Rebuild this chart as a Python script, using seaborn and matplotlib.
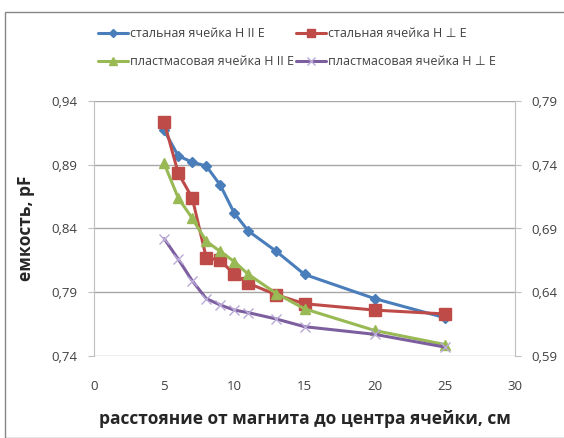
import matplotlib
matplotlib.use("Agg")
import matplotlib.pyplot as plt
import matplotlib.ticker as mticker
import seaborn as sns
import pandas as pd

distance = [5, 6, 7, 8, 9, 10, 11, 13, 15, 20, 25]
steel_par = [0.917, 0.897, 0.892, 0.889, 0.874, 0.852, 0.838, 0.822, 0.804, 0.785, 0.770]
steel_perp = [0.9235, 0.8835, 0.864, 0.817, 0.815, 0.804, 0.797, 0.788, 0.781, 0.776, 0.773]
plastic_par = [0.891, 0.864, 0.848, 0.830, 0.822, 0.814, 0.804, 0.789, 0.777, 0.760, 0.749]
plastic_perp = [0.832, 0.816, 0.799, 0.785, 0.780, 0.776, 0.774, 0.769, 0.763, 0.757, 0.747]

labels = ["стальная ячейка H II E", "стальная ячейка H ⊥ E",
          "пластмасовая ячейка H II E", "пластмасовая ячейка H ⊥ E"]
colors = ["#4A7EBB", "#BE4B48", "#98B954", "#7D5FA0"]
markers = ["D", "s", "^", "x"]
msizes = [5, 8, 7, 7]

sns.set_style("white")
plt.rcParams['font.family'] = ['Open Sans', 'DejaVu Sans']

fig = plt.figure(figsize=(5.64, 4.38), dpi=100)
ax = fig.add_axes([94 / 564, 1 - 356 / 438, (515 - 94) / 564, (356 - 101) / 438])

series = [steel_par, steel_perp, plastic_par, plastic_perp]
for vals, lab, col, mk, ms in zip(series, labels, colors, markers, msizes):
    df = pd.DataFrame({"x": distance, "y": vals})
    sns.lineplot(data=df, x="x", y="y", ax=ax, color=col, linewidth=2.2,
                 marker=mk, markersize=ms, markeredgecolor=col if mk != "x" else "#B9A9D6",
                 markeredgewidth=1.0, label=lab)

ax.set_xlim(0, 30)
ax.set_ylim(0.74, 0.94)
ax.set_xticks(range(0, 31, 5))
ax.set_yticks([0.74, 0.79, 0.84, 0.89, 0.94])
fmt = mticker.FuncFormatter(lambda v, p: f"{v:.2f}".replace(".", ","))
ax.yaxis.set_major_formatter(fmt)
ax.grid(axis="y", color="#A6A6A6", linewidth=1)
ax.set_axisbelow(True)
for s in ["top", "right", "bottom"]:
    ax.spines[s].set_visible(False)
ax.spines["left"].set_color("#BFBFBF")
ax.tick_params(axis="y", left=True, length=4, color="#BFBFBF", labelsize=9.5, labelcolor="#404040", pad=8)
ax.tick_params(axis="x", bottom=False, labelsize=9.5, labelcolor="#404040", pad=14)

ax2 = ax.twinx()
ax2.set_ylim(0.59, 0.79)
ax2.set_yticks([0.59, 0.64, 0.69, 0.74, 0.79])
ax2.yaxis.set_major_formatter(fmt)
for s in ["top", "left", "bottom"]:
    ax2.spines[s].set_visible(False)
ax2.spines["right"].set_color("#BFBFBF")
ax2.tick_params(axis="y", right=True, length=4, color="#BFBFBF", labelsize=9.5, labelcolor="#404040", pad=8)

ax.set_xlabel("расстояние от магнита до центра ячейки, см", fontsize=12.5, fontweight="bold", labelpad=12)
ax.set_ylabel("емкость, pF", fontsize=12.5, fontweight="bold", labelpad=12)

handles, labs = ax.get_legend_handles_labels()
order = [0, 2, 1, 3]
ax.legend([handles[i] for i in order], [labs[i] for i in order], ncol=2,
          loc="upper left", bbox_to_anchor=(98 / 564, 1 - 27 / 438), bbox_transform=fig.transFigure,
          frameon=False, fontsize=9, handlelength=2.4, handletextpad=0.2, borderpad=0, borderaxespad=0,
          columnspacing=0.1, labelspacing=1.2, labelcolor="#404040", markerscale=0.8)

fig.patches.append(plt.Rectangle((5 / 564, 0), 1.2, 1 - 12 / 438, transform=fig.transFigure,
                                 fill=False, edgecolor="#868686", linewidth=1))

fig.savefig("out.png", dpi=100)
